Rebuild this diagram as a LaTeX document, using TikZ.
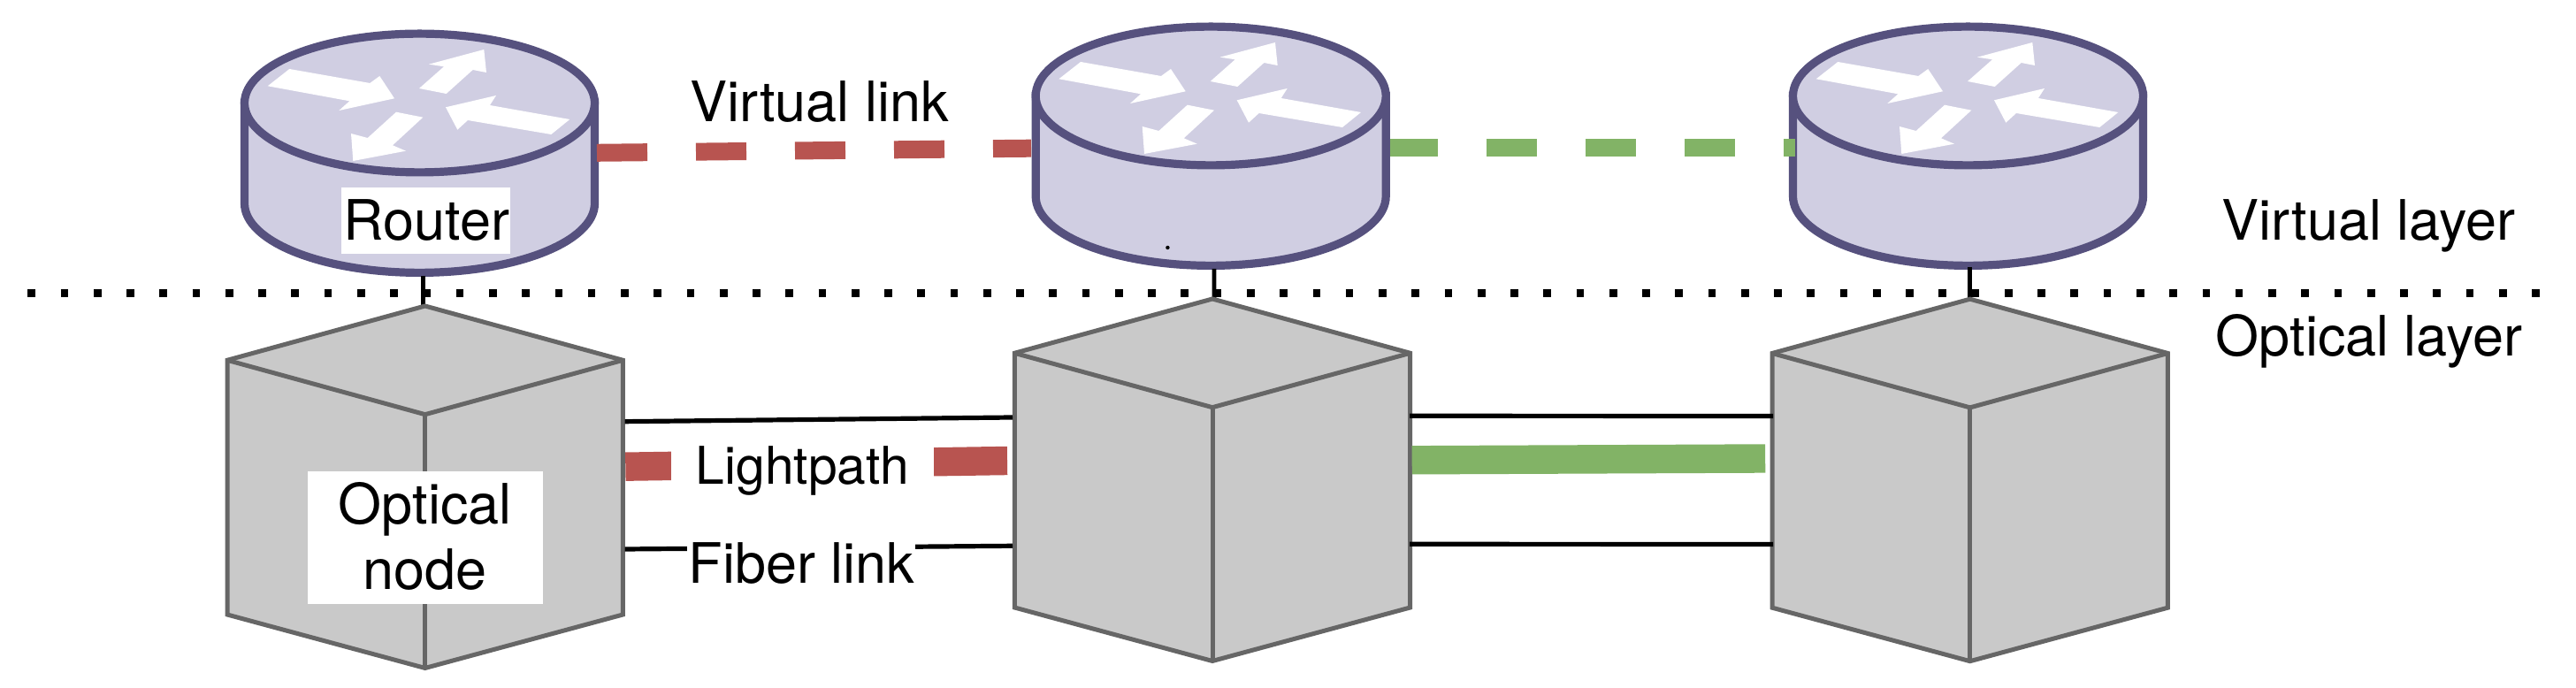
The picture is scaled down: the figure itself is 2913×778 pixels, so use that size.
\documentclass[tikz,border=0pt]{standalone}
\usepackage{fontspec}
\setmainfont{TeX Gyre Heros}
\usetikzlibrary{calc}
\definecolor{rfill}{HTML}{D0CEE2}
\definecolor{rline}{HTML}{56517E}
\definecolor{cfill}{HTML}{C9C9C9}
\definecolor{cline}{HTML}{666666}
\definecolor{redlink}{HTML}{B85450}
\definecolor{greenlink}{HTML}{82B366}
\tikzset{
  anchorbox/.style={rectangle,inner sep=0pt,outer sep=0pt,draw=none,fill=none},
  cubebox/.style={anchorbox,minimum width=111.85pt,minimum height=102.25pt},
  routerline/.style={draw=rline,fill=rfill,line width=2.3pt},
  cubeline/.style={draw=cline,fill=cfill,line width=1.25pt,line join=miter},
  vlinkstyle/.style={line width=5pt,dash pattern=on 14.25pt off 13.75pt},
  fiber/.style={draw=black,line width=1.3pt},
  lightpath/.style={line width=8.1pt},
  lbl/.style={font=\fontsize{15.75}{18.5}\selectfont,inner sep=0pt,anchor=base},
}
\newcommand{\routerpic}[4]{% name, cx, top-ellipse cy, node cy
  \node[anchorbox,minimum width=101.1pt,minimum height=69.75pt] (#1) at (#2,#4) {};
  \begin{scope}[shift={(#2,#3)}]
    \path[routerline] (-198,0) -- (-198,113.5)
      arc[start angle=180,end angle=360,x radius=49.5pt,y radius=19.6pt] -- (198,0) -- cycle;
    \path[routerline] (0,0) ellipse [x radius=49.5pt,y radius=19.6pt];
    \fill[white] (-147.2,-38.5) -- (-56.2,-22.5) -- (-45.2,-30.5) -- (-28.5,-5.2) -- (-91.2,8.5) -- (-79.2,-2.2) -- (-171.8,-19.2) -- cycle;
    \fill[white] (-0.5,-16.5) -- (27.5,-41.2) -- (10.5,-43.8) -- (72.8,-60.5) -- (75.5,-34.5) -- (60.2,-37.5) -- (30.2,-10.5) -- cycle;
    \fill[white] (169.8,18.5) -- (148.8,35.5) -- (54.5,19.5) -- (42.8,30.2) -- (29.5,4.8) -- (86.5,-8.5) -- (79.5,2.5) -- cycle;
    \fill[white] (3.8,16.2) -- (-30.5,47.8) -- (-15.5,54.2) -- (-75.2,65.5) -- (-77.5,34.5) -- (-58.8,39.5) -- (-26.5,10.2) -- cycle;
  \end{scope}
}
\newcommand{\cubepic}[2]{% cx, apex y
  \begin{scope}[shift={(#1,#2)}]
    \path[cubeline] (0,0) -- (223.7,61.3) -- (223.7,349) -- (0,409.5) -- (-223.7,349) -- (-223.7,61.3) -- cycle;
    \draw[cubeline,fill=none] (-223.7,61.3) -- (0,122.7) -- (223.7,61.3);
    \draw[cubeline,fill=none] (0,122.7) -- (0,409.5);
  \end{scope}
}
\begin{document}
\begin{tikzpicture}[x=0.25pt,y=-0.25pt]
\useasboundingbox (0,0) rectangle (2913,778);
% layer separator
\coordinate (dl) at (31.35,331.7);
\coordinate (dr) at (2871.65,331.7);
\draw[line width=2.175pt,dash pattern=on 2.175pt off 7.14pt] (dl) -- (dr);
% routers
\routerpic{r1}{474.5}{116.5}{173.5}
\routerpic{r2}{1369.2}{108.5}{165.5}
\routerpic{r3}{2225.5}{108.5}{165.5}
\fill[black] (1320.4,280) circle (0.55pt);
% cube anchors
\node[cubebox] (c1) at (480.7,550.5) {};
\node[cubebox] (c2) at (1371,542.7) {};
\node[cubebox] (c3) at (2227.7,542.9) {};
% router to cube connectors
\draw[line width=1.17pt] ($(r1.south)+(3.8,-1)$) -- ($(c1.north)+(-2.4,0)$);
\draw[line width=1.17pt] ($(r2.south)+(3.8,-1)$) -- ($(c2.north)+(2,0)$);
\draw[line width=1.17pt] ($(r3.south)+(2.2,-3)$) -- ($(c3.north)+(0,0)$);
% cubes
\cubepic{480.7}{346}
\cubepic{1371}{338}
\cubepic{2227.7}{338.2}
% virtual links
\draw[redlink,vlinkstyle] ($(r1.east)+(-1.7,-0.7)$) -- ($(r2.west)+(-1,2.2)$);
\draw[greenlink,vlinkstyle,dash phase=0.75pt] ($(r2.east)+(0.6,1.5)$) -- ($(r3.west)+(6.7,1.5)$);
% fibers
\draw[fiber] ($(c1.east)+(2.3,-73.8)$) -- ($(c2.west)+(-2.3,-70.7)$);
\draw[fiber] ($(c1.east)+(2.3,70.5)$) -- ($(c2.west)+(-2.3,74.6)$);
\draw[fiber] ($(c2.east)+(-0.7,-72.4)$) -- ($(c3.west)+(1.2,-72.4)$);
\draw[fiber] ($(c2.east)+(-0.7,72.6)$) -- ($(c3.west)+(1.2,72.6)$);
% lightpaths
\draw[redlink,lightpath] ($(c1.east)+(2.9,-22.8)$) -- ($(c2.west)+(-8.3,-21.7)$);
\draw[greenlink,lightpath] ($(c2.east)+(2,-22.4)$) -- ($(c3.west)+(-7.8,-24.4)$);
% label backgrounds
\fill[white] (386,212) rectangle (576.7,286.7);
\fill[white] (348,532.7) rectangle (614,682.7);
\fill[white] (759,490) rectangle (1056,590);
\fill[white] (776.7,600) rectangle (1035,680);
% labels
\node[lbl] (tvl) at (926.7,137.7) {Virtual link};
\node[lbl] (trouter) at (482.3,271.7) {Router};
\node[lbl] (topt) at (480.7,592.7) {Optical};
\node[lbl] (tnode) at (480.7,666.7) {node};
\node[lbl,font=\fontsize{14.7}{17}\selectfont] (tlp) at (907.5,547.7) {Lightpath};
\node[lbl] (tfl) at (906.7,660) {Fiber link};
\node[lbl] (tvlayer) at (2678.3,271.7) {Virtual layer};
\node[lbl] (tolayer) at (2679,402.7) {Optical layer};
\end{tikzpicture}
\end{document}
